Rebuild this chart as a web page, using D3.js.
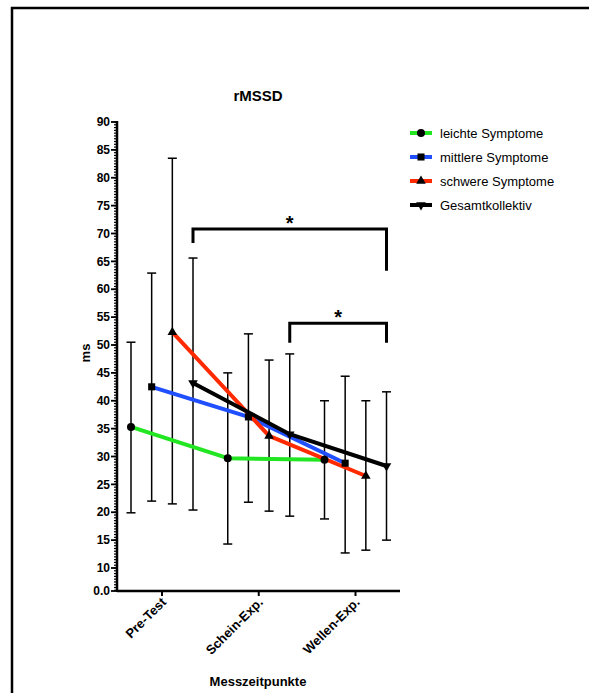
<!DOCTYPE html>
<html>
<head>
<meta charset="utf-8">
<script src="https://cdn.jsdelivr.net/npm/d3@7"></script>
<style>
  html, body { margin: 0; padding: 0; background: #fff; }
  svg { display: block; font-family: "Liberation Sans", Arial, sans-serif; }
</style>
</head>
<body>
<svg id="chart" width="589" height="693"></svg>
<script>
// ---- data ----
const categories = ["Pre-Test", "Schein-Exp.", "Wellen-Exp."];
const seriesNames = ["leichte Symptome", "mittlere Symptome", "schwere Symptome", "Gesamtkollektiv"];
const leichteMean  = [35.3, 29.7, 29.4];
const leichteUpper = [50.5, 45.0, 40.0];
const leichteLower = [19.9, 14.3, 18.8];
const mittlereMean  = [42.5, 37.1, 28.8];
const mittlereUpper = [62.9, 52.0, 44.4];
const mittlereLower = [22.0, 21.8, 12.7];
const schwereMean  = [52.3, 33.7, 26.5];
const schwereUpper = [83.5, 47.3, 40.0];
const schwereLower = [21.5, 20.2, 13.2];
const gesamtMean  = [43.2, 34.0, 28.3];
const gesamtUpper = [65.6, 48.4, 41.6];
const gesamtLower = [20.4, 19.3, 15.0];
const yTickValues = [10, 15, 20, 25, 30, 35, 40, 45, 50, 55, 60, 65, 70, 75, 80, 85, 90];
// significance brackets: from category index, to category index, bar level, left leg end, right leg end
const brackets = [
  { from: 0, to: 2, top: 70.8, leftEnd: 68.3, rightEnd: 63.3, label: "*" },
  { from: 1, to: 2, top: 53.9, leftEnd: 50.4, rightEnd: 50.4, label: "*" }
];

const series = [
  { name: seriesNames[0], mean: leichteMean, upper: leichteUpper, lower: leichteLower, color: "#22e622", marker: "circle" },
  { name: seriesNames[1], mean: mittlereMean, upper: mittlereUpper, lower: mittlereLower, color: "#1f4fff", marker: "square" },
  { name: seriesNames[2], mean: schwereMean, upper: schwereUpper, lower: schwereLower, color: "#ff2a00", marker: "triangle" },
  { name: seriesNames[3], mean: gesamtMean, upper: gesamtUpper, lower: gesamtLower, color: "#000000", marker: "triangleDown" }
];

const svg = d3.select("#chart");

// frame
svg.append("rect").attr("x", 12).attr("y", 8).attr("width", 620).attr("height", 720)
  .attr("fill", "none").attr("stroke", "#000").attr("stroke-width", 2.5);

// scales
const y = d3.scaleLinear().domain([10, 90]).range([568, 122]);
const axisBottomPx = 591;
const yMinVal = y.invert(axisBottomPx);
const xCat = d3.scalePoint().domain(categories).range([162, 355.5]);
const xOff = d3.scalePoint().domain(seriesNames).range([-31, 31]);
const xAxisLeft = 117, xAxisRight = 400;
const px = (s, i) => xCat(categories[i]) + xOff(s.name);

// title
svg.append("text").attr("x", 258).attr("y", 101).attr("text-anchor", "middle")
  .attr("font-weight", "bold").attr("font-size", 15).text("rMSSD");

// y axis
const yAxisG = svg.append("g");
yAxisG.append("line").attr("x1", xAxisLeft).attr("x2", xAxisLeft)
  .attr("y1", y(90) - 1).attr("y2", axisBottomPx + 1).attr("stroke", "#000").attr("stroke-width", 2.5);
const minorVals = d3.range(Math.ceil(yMinVal * 2) / 2, 90.001, 0.5);
yAxisG.selectAll("line.minor").data(minorVals).join("line").attr("class", "minor")
  .attr("x1", xAxisLeft - 3).attr("x2", xAxisLeft).attr("y1", d => y(d)).attr("y2", d => y(d))
  .attr("stroke", "#000").attr("stroke-width", 1.2);
yAxisG.selectAll("line.major").data(yTickValues).join("line").attr("class", "major")
  .attr("x1", xAxisLeft - 6).attr("x2", xAxisLeft).attr("y1", d => y(d)).attr("y2", d => y(d))
  .attr("stroke", "#000").attr("stroke-width", 1.8);
yAxisG.selectAll("text.tl").data(yTickValues).join("text").attr("class", "tl")
  .attr("x", xAxisLeft - 7).attr("y", d => y(d)).attr("dy", "0.35em")
  .attr("text-anchor", "end").attr("font-weight", "bold").attr("font-size", 12).text(d => d);
yAxisG.append("line").attr("x1", xAxisLeft - 6).attr("x2", xAxisLeft)
  .attr("y1", axisBottomPx).attr("y2", axisBottomPx).attr("stroke", "#000").attr("stroke-width", 1.8);
yAxisG.append("text").attr("x", xAxisLeft - 7).attr("y", axisBottomPx).attr("dy", "0.35em")
  .attr("text-anchor", "end").attr("font-weight", "bold").attr("font-size", 12).text("0.0");
svg.append("text").attr("transform", "translate(90,353) rotate(-90)").attr("text-anchor", "middle")
  .attr("font-weight", "bold").attr("font-size", 13).text("ms");

// x axis
const xAxisG = svg.append("g");
xAxisG.append("line").attr("x1", xAxisLeft).attr("x2", xAxisRight)
  .attr("y1", axisBottomPx).attr("y2", axisBottomPx).attr("stroke", "#000").attr("stroke-width", 2.5);
xAxisG.selectAll("line.xt").data(categories).join("line").attr("class", "xt")
  .attr("x1", d => xCat(d)).attr("x2", d => xCat(d)).attr("y1", axisBottomPx).attr("y2", axisBottomPx + 5)
  .attr("stroke", "#000").attr("stroke-width", 2);
xAxisG.selectAll("text.xl").data(categories).join("text").attr("class", "xl")
  .attr("transform", d => `translate(${xCat(d) + 5},${axisBottomPx + 12}) rotate(-45)`)
  .attr("text-anchor", "end").attr("font-size", 13).attr("font-weight", "bold").text(d => d);
svg.append("text").attr("x", 258).attr("y", 686).attr("text-anchor", "middle")
  .attr("font-weight", "bold").attr("font-size", 13).text("Messzeitpunkte");

// error bars
const eb = svg.append("g");
series.forEach(s => {
  categories.forEach((c, i) => {
    const x = px(s, i);
    eb.append("line").attr("x1", x).attr("x2", x).attr("y1", y(s.upper[i])).attr("y2", y(s.lower[i]))
      .attr("stroke", "#000").attr("stroke-width", 1.5);
    [s.upper[i], s.lower[i]].forEach(v => {
      eb.append("line").attr("x1", x - 4.5).attr("x2", x + 4.5).attr("y1", y(v)).attr("y2", y(v))
        .attr("stroke", "#000").attr("stroke-width", 1.5);
    });
  });
});

// lines
const line = d3.line().x(d => d[0]).y(d => d[1]);
series.forEach(s => {
  const pts = categories.map((c, i) => [px(s, i), y(s.mean[i])]);
  svg.append("path").attr("d", line(pts)).attr("fill", "none")
    .attr("stroke", s.color).attr("stroke-width", 4).attr("stroke-linejoin", "round");
});

// markers
const symbolMap = {
  circle: d3.symbol().type(d3.symbolCircle).size(50),
  square: d3.symbol().type(d3.symbolSquare).size(50),
  triangle: d3.symbol().type(d3.symbolTriangle).size(40),
  triangleDown: d3.symbol().type(d3.symbolTriangle).size(40)
};
function drawMarker(g, kind, x, yy) {
  g.append("path").attr("d", symbolMap[kind]())
    .attr("transform", `translate(${x},${yy})` + (kind === "triangleDown" ? " rotate(180)" : ""))
    .attr("fill", "#000");
}
series.forEach(s => {
  categories.forEach((c, i) => drawMarker(svg, s.marker, px(s, i), y(s.mean[i])));
});

// brackets
const gesamt = series[3];
brackets.forEach(b => {
  const x1 = px(gesamt, b.from), x2 = px(gesamt, b.to);
  svg.append("path")
    .attr("d", `M${x1},${y(b.leftEnd)}V${y(b.top)}H${x2}V${y(b.rightEnd)}`)
    .attr("fill", "none").attr("stroke", "#000").attr("stroke-width", 3);
  svg.append("text").attr("x", (x1 + x2) / 2).attr("y", y(b.top) + 1).attr("text-anchor", "middle")
    .attr("font-weight", "bold").attr("font-size", 20).text(b.label);
});

// legend
const lg = svg.append("g");
series.forEach((s, i) => {
  const yy = [133, 157, 181, 205][i];
  lg.append("line").attr("x1", 410).attr("x2", 432).attr("y1", yy).attr("y2", yy)
    .attr("stroke", s.color).attr("stroke-width", 4);
  drawMarker(lg, s.marker, 421, yy);
  lg.append("text").attr("x", 440).attr("y", yy).attr("dy", "0.35em").attr("font-size", 13).text(s.name);
});
</script>
</body>
</html>
